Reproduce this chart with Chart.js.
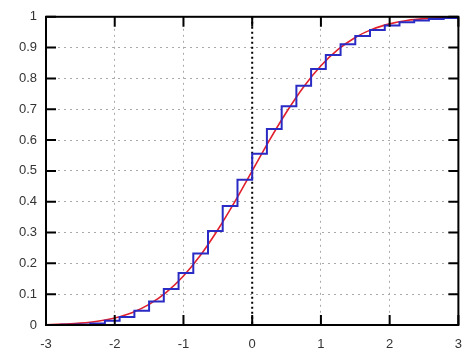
<!DOCTYPE html>
<html>
<head>
<meta charset="utf-8">
<script src="https://cdn.jsdelivr.net/npm/chart.js@4.4.1/dist/chart.umd.min.js"></script>
<style>
    html, body { margin: 0; padding: 0; background: #fff; }
    #wrap { width: 474px; height: 360px; position: relative; }
</style>
</head>
<body>
<div id="wrap"><canvas id="graficaCdf"></canvas></div>
<script>
// escalones (borde izquierdo de cada escalon, el ultimo punto cierra en x=3)
const stepX = [-3, -2.786, -2.571, -2.357, -2.143, -1.929, -1.714, -1.5, -1.286, -1.071,
    -0.857, -0.643, -0.429, -0.214, 0, 0.214, 0.429, 0.643, 0.857, 1.071,
    1.286, 1.5, 1.714, 1.929, 2.143, 2.357, 2.571, 2.786, 3];
const stepY = [0.000, 0.001, 0.002, 0.005, 0.014, 0.026, 0.046, 0.076, 0.117, 0.169,
    0.232, 0.305, 0.386, 0.471, 0.556, 0.636, 0.710, 0.776, 0.831, 0.876,
    0.911, 0.938, 0.957, 0.972, 0.982, 0.988, 0.993, 0.996, 0.996];

// curva roja
const curveX = [-3, -2.75, -2.5, -2.25, -2, -1.75, -1.5, -1.25, -1, -0.75, -0.5, -0.25, 0,
    0.25, 0.5, 0.75, 1, 1.25, 1.5, 1.75, 2, 2.25, 2.5, 2.75, 3];
const curveY = [0.001, 0.003, 0.006, 0.012, 0.023, 0.040, 0.067, 0.106, 0.159, 0.227, 0.309, 0.401, 0.500,
    0.599, 0.691, 0.773, 0.841, 0.894, 0.933, 0.960, 0.977, 0.988, 0.994, 0.997, 0.999];

const xTickLabels = ['-3', '-2', '-1', '0', '1', '2', '3'];
const yTickLabels = ['0', '0.1', '0.2', '0.3', '0.4', '0.5', '0.6', '0.7', '0.8', '0.9', '1'];

const fuente = { family: "'Liberation Sans', Arial, sans-serif", size: 13 };

// marco negro, marcas hacia dentro y linea punteada en x=0
const marco = {
    id: 'marco',
    beforeDatasetsDraw(chart) {
        const { ctx, chartArea: a, scales: { x } } = chart;
        const x0 = x.getPixelForValue(0);
        ctx.save();
        ctx.strokeStyle = '#000';
        ctx.lineWidth = 2;
        ctx.setLineDash([2, 3]);
        ctx.beginPath();
        ctx.moveTo(x0, a.top);
        ctx.lineTo(x0, a.bottom);
        ctx.stroke();
        ctx.restore();
    },
    afterDatasetsDraw(chart) {
        const { ctx, chartArea: a, scales: { x, y } } = chart;
        const len = 10;
        ctx.save();
        ctx.strokeStyle = '#000';
        ctx.lineWidth = 2;
        ctx.beginPath();
        x.ticks.forEach(t => {
            const px = x.getPixelForValue(t.value);
            ctx.moveTo(px, a.bottom); ctx.lineTo(px, a.bottom - len);
            ctx.moveTo(px, a.top); ctx.lineTo(px, a.top + len);
        });
        y.ticks.forEach(t => {
            const py = y.getPixelForValue(t.value);
            ctx.moveTo(a.left, py); ctx.lineTo(a.left + len, py);
            ctx.moveTo(a.right, py); ctx.lineTo(a.right - len, py);
        });
        ctx.stroke();
        ctx.strokeRect(a.left, a.top, a.right - a.left, a.bottom - a.top);
        ctx.restore();
    }
};

const ctx = document.getElementById('graficaCdf').getContext('2d');

const graficaCdf = new Chart(ctx, {
    type: 'line',
    data: {
        datasets: [{
            label: 'escalones',
            data: stepX.map((v, i) => ({ x: v, y: stepY[i] })),
            borderColor: '#2a2ac4',
            borderWidth: 2,
            stepped: true,
            pointRadius: 0,
            fill: false
        }, {
            label: 'curva',
            data: curveX.map((v, i) => ({ x: v, y: curveY[i] })),
            borderColor: '#e0202c',
            borderWidth: 1.6,
            cubicInterpolationMode: 'monotone',
            pointRadius: 0,
            fill: false
        }]
    },
    options: {
        responsive: true,
        maintainAspectRatio: false,
        animation: false,
        layout: {
            padding: { top: 15, right: 15, left: 0, bottom: 0 }
        },
        scales: {
            x: {
                type: 'linear',
                min: -3,
                max: 3,
                ticks: {
                    stepSize: 1,
                    padding: 12,
                    color: '#333',
                    font: fuente,
                    maxRotation: 0,
                    callback: (v, i) => xTickLabels[i]
                },
                grid: {
                    color: c => (c.tick && c.tick.value === 0) ? 'rgba(0,0,0,0)' : '#aaa',
                    lineWidth: 1,
                    drawTicks: false
                },
                border: { display: false, dash: [2, 4] },
                afterFit: s => { s.height = 35; }
            },
            y: {
                type: 'linear',
                min: 0,
                max: 1,
                ticks: {
                    stepSize: 0.1,
                    padding: 9,
                    color: '#333',
                    font: fuente,
                    callback: (v, i) => yTickLabels[i]
                },
                grid: {
                    color: '#aaa',
                    lineWidth: 1,
                    drawTicks: false
                },
                border: { display: false, dash: [2, 4] },
                afterFit: s => { s.width = 46; }
            }
        },
        plugins: {
            legend: { display: false },
            title: { display: false },
            tooltip: { enabled: false }
        }
    },
    plugins: [marco]
});
</script>
</body>
</html>
